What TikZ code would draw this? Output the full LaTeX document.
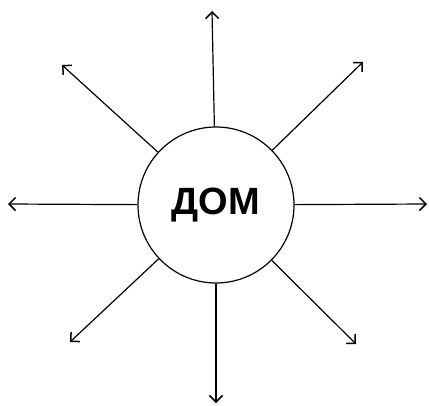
\documentclass[tikz,border=0pt]{standalone}
\usepackage{fontspec}
\setmainfont{Liberation Sans}
\usetikzlibrary{arrows.meta}
\tikzset{hub/.style={draw,circle,line width=1.2pt,minimum size=156pt,inner sep=0pt,font=\fontsize{38}{38}\selectfont\bfseries},ray/.style={-{Straight Barb[length=6.5pt,width=13pt,line width=1.5pt]},line width=1.2pt}}

\begin{document}
\begin{tikzpicture}[x=1pt,y=-1pt]
 \useasboundingbox (0,0) rectangle (429,405);
 \node[hub] (dom) at (216,205) {ДОМ};

 \coordinate (tn) at (212,11);
 \coordinate (tne) at (363,62);
 \coordinate (te) at (427,204);
 \coordinate (tse) at (356,344);
 \coordinate (ts) at (216,403);
 \coordinate (tsw) at (70,342);
 \coordinate (tw) at (8,204);
 \coordinate (tnw) at (62,65);

 \foreach \dst in {tn,tne,te,tse,ts,tsw,tw,tnw} {\draw[ray] (dom)--(\dst);}
\end{tikzpicture}
\end{document}
